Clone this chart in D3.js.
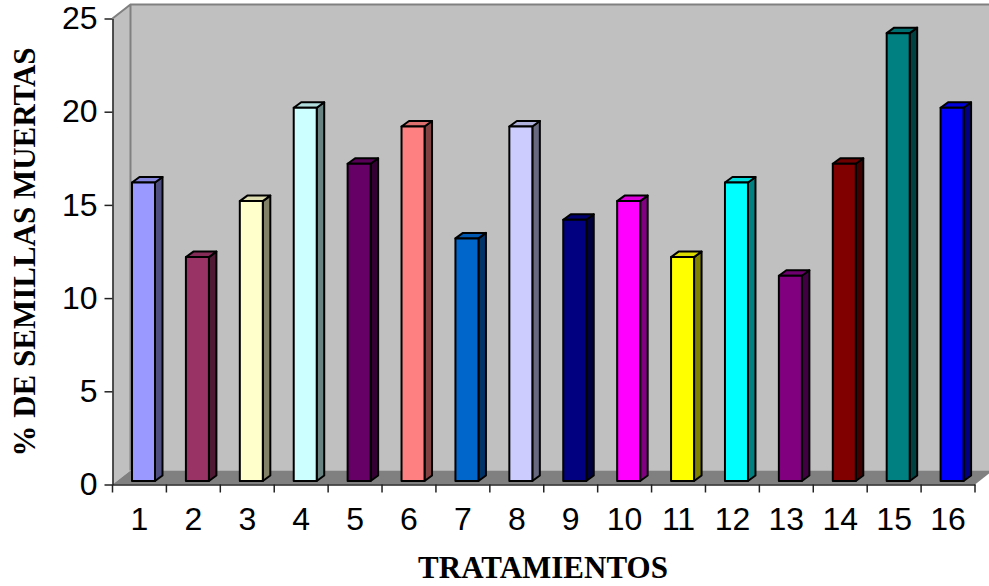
<!DOCTYPE html>
<html>
<head>
<meta charset="utf-8">
<script src="https://cdn.jsdelivr.net/npm/d3@7"></script>
<style>
  html, body { margin: 0; padding: 0; background: #fff; overflow: hidden; }
  svg { display: block; }
  .tick text { font-family: "Liberation Sans", Arial, sans-serif; font-size: 32px; fill: #000; }
  .title { font-family: "Liberation Serif", "Times New Roman", serif; font-weight: bold; font-size: 31px; fill: #000; }
</style>
</head>
<body>
<div id="chart"></div>
<script>
const categories = ["1", "2", "3", "4", "5", "6", "7", "8", "9", "10", "11", "12", "13", "14", "15", "16"];
const values = [16, 12, 15, 20, 17, 19, 13, 19, 14, 15, 12, 16, 11, 17, 24, 20];
const barColors = ["#9999FF", "#993366", "#FFFFCC", "#CCFFFF", "#660066", "#FF8080", "#0066CC", "#CCCCFF",
    "#000080", "#FF00FF", "#FFFF00", "#00FFFF", "#800080", "#800000", "#008080", "#0000FF"];
const yTicks = [0, 5, 10, 15, 20, 25];
const xTitle = "TRATAMIENTOS";
const yTitle = "% DE SEMILLAS MUERTAS";

const width = 989, height = 586;

// front edge of the 3d box
let x = d3.scaleBand().domain(categories).range([112.5, 975]);
let y = d3.scaleLinear().domain([0, 25]).range([484.5, 18.5]);
// bars stand a bit behind the front edge
let yBar = d3.scaleLinear().domain([0, 25]).range([481, 14.5]);

// how far the back wall is pushed away
const wallDx = 18, wallDy = -14;
// depth of a bar
const barDx = 7.5, barDy = -5.5;
const barGap = 19.5, barWidth = 23;

let svg = d3.select("#chart").append("svg")
    .attr("width", width)
    .attr("height", height);

const x0 = x.range()[0], x1 = x.range()[1];
const yTop = y(25), yBase = y(0);

// side wall
svg.append("polygon")
    .attr("points", [[x0, yBase], [x0 + wallDx, yBase + wallDy], [x0 + wallDx, yTop + wallDy], [x0, yTop]].join(" "))
    .attr("fill", "#c0c0c0");

// back wall
svg.append("rect")
    .attr("x", x0 + wallDx)
    .attr("y", yTop + wallDy)
    .attr("width", x1 - x0)
    .attr("height", yBase - yTop)
    .attr("fill", "#c0c0c0");

// floor
svg.append("polygon")
    .attr("points", [[x0, yBase], [x0 + wallDx, yBase + wallDy], [x1 + wallDx, yBase + wallDy], [x1, yBase]].join(" "))
    .attr("fill", "#808080");

// wall edges
svg.append("path")
    .attr("d", `M${x0},${yTop}L${x0 + wallDx},${yTop + wallDy}H${x1 + wallDx}M${x0 + wallDx},${yTop + wallDy}V${yBase + wallDy}`)
    .attr("fill", "none")
    .attr("stroke", "#808080")
    .attr("stroke-width", 2);

// bars
const bars = svg.selectAll("g.bar")
    .data(values)
    .enter()
    .append("g")
    .attr("class", "bar")
    .attr("stroke", "#000")
    .attr("stroke-width", 2)
    .attr("stroke-linejoin", "round");

const barLeft = (d, i) => x(categories[i]) + barGap;

bars.append("polygon")
    .attr("fill", (d, i) => d3.color(barColors[i]).darker(1.9))
    .attr("points", (d, i) => {
        let r = barLeft(d, i) + barWidth;
        return [[r, yBar(d)], [r + barDx, yBar(d) + barDy], [r + barDx, yBar(0) + barDy], [r, yBar(0)]].join(" ");
    });

bars.append("polygon")
    .attr("fill", (d, i) => d3.color(barColors[i]).darker(0.4))
    .attr("points", (d, i) => {
        let l = barLeft(d, i), r = l + barWidth;
        return [[l, yBar(d)], [l + barDx, yBar(d) + barDy], [r + barDx, yBar(d) + barDy], [r, yBar(d)]].join(" ");
    });

bars.append("rect")
    .attr("x", barLeft)
    .attr("y", d => yBar(d))
    .attr("width", barWidth)
    .attr("height", d => yBar(0) - yBar(d))
    .attr("fill", (d, i) => barColors[i]);

// y axis
const yAxis = svg.append("g")
    .attr("transform", `translate(${x0}, 0)`)
    .call(d3.axisLeft(y).tickValues(yTicks).tickSize(8).tickPadding(7).tickSizeOuter(0));
yAxis.selectAll("line, path").attr("stroke", "#222").attr("stroke-width", 1.5);

// x axis
const xAxis = svg.append("g")
    .attr("transform", `translate(0, ${yBase})`)
    .call(d3.axisBottom(x).tickSize(0).tickPadding(23).tickSizeOuter(0));
xAxis.selectAll("path").attr("stroke", "#222").attr("stroke-width", 1.5);
xAxis.selectAll(".tick line").remove();

// ticks sit between the categories
xAxis.selectAll("line.sep")
    .data(categories.concat("end"))
    .enter()
    .append("line")
    .attr("class", "sep")
    .attr("x1", (d, i) => x0 + i * x.bandwidth())
    .attr("x2", (d, i) => x0 + i * x.bandwidth())
    .attr("y1", 0)
    .attr("y2", 8)
    .attr("stroke", "#222")
    .attr("stroke-width", 1.5);

// titles
svg.append("text")
    .attr("class", "title")
    .attr("x", 543)
    .attr("y", 578)
    .attr("text-anchor", "middle")
    .text(xTitle);

svg.append("text")
    .attr("class", "title")
    .attr("transform", "translate(35, 252) rotate(-90)")
    .attr("text-anchor", "middle")
    .text(yTitle);
</script>
</body>
</html>
